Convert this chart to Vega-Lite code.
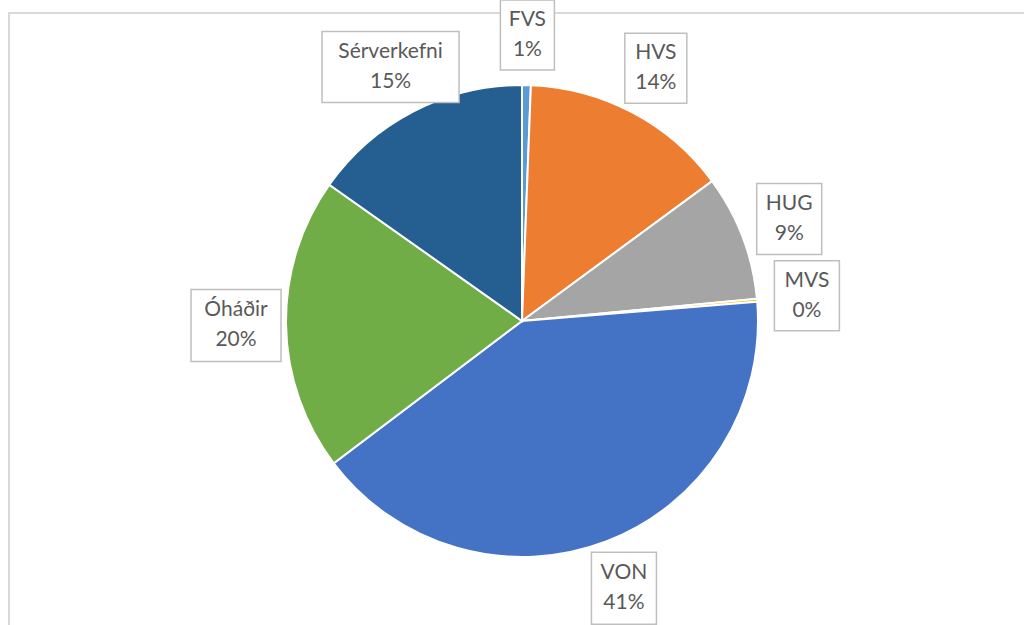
{
  "$schema": "https://vega.github.io/schema/vega-lite/v6.json",
  "width": 1026,
  "height": 616,
  "autosize": {"type": "none"},
  "padding": {"left": 9, "top": 13, "right": 0, "bottom": 0},
  "background": "white",
  "config": {"view": {"stroke": "#d9d9d9", "strokeWidth": 2}},
  "data": {
    "values": [
      {"k": 1, "name": "FVS", "value": 0.6},
      {"k": 2, "name": "HVS", "value": 14.3},
      {"k": 3, "name": "HUG", "value": 8.6},
      {"k": 4, "name": "MVS", "value": 0.2},
      {"k": 5, "name": "VON", "value": 41.0},
      {"k": 6, "name": "Óháðir", "value": 20.1},
      {"k": 7, "name": "Sérverkefni", "value": 15.2}
    ]
  },
  "transform": [
    {"window": [{"op": "sum", "field": "value", "as": "cum"}], "sort": [{"field": "k"}], "frame": [null, 0]},
    {"joinaggregate": [{"op": "sum", "field": "value", "as": "total"}]},
    {"calculate": "(datum.cum - datum.value / 2) / datum.total * 2 * PI", "as": "ang"},
    {"calculate": "286 * sin(datum.ang)", "as": "lx"},
    {"calculate": "286 * cos(datum.ang)", "as": "ly"},
    {"calculate": "[datum.name, format(datum.value, '.0f') + '%']", "as": "label"}
  ],
  "layer": [
    {
      "mark": {"type": "arc", "outerRadius": 236, "stroke": "white", "strokeWidth": 2},
      "encoding": {
        "theta": {"field": "value", "type": "quantitative", "stack": true},
        "order": {"field": "k", "type": "quantitative"},
        "color": {
          "field": "name",
          "type": "nominal",
          "legend": null,
          "scale": {
            "domain": ["FVS", "HVS", "HUG", "MVS", "VON", "Óháðir", "Sérverkefni"],
            "range": ["#5B9BD5", "#ED7D31", "#A5A5A5", "#FFC000", "#4472C4", "#70AD47", "#255E91"]
          }
        }
      }
    },
    {
      "mark": {"type": "point", "filled": true, "fill": "white", "stroke": "#bfbfbf", "strokeWidth": 1.5, "opacity": 1, "size": 10000},
      "encoding": {
        "x": {"field": "lx", "type": "quantitative", "axis": null, "scale": {"domain": [-513, 513]}},
        "y": {"field": "ly", "type": "quantitative", "axis": null, "scale": {"domain": [-308, 308]}},
        "shape": {
          "field": "name",
          "type": "nominal",
          "legend": null,
          "scale": {
            "domain": ["FVS", "HVS", "HUG", "MVS", "VON", "Óháðir", "Sérverkefni"],
            "range": [
              "M-0.54,-0.7H0.54V0.7H-0.54Z",
              "M-0.62,-0.7H0.62V0.7H-0.62Z",
              "M-0.65,-0.71H0.65V0.71H-0.65Z",
              "M-0.65,-0.7H0.65V0.7H-0.65Z",
              "M-0.65,-0.72H0.65V0.72H-0.65Z",
              "M-0.9,-0.72H0.9V0.72H-0.9Z",
              "M-1.37,-0.71H1.37V0.71H-1.37Z"
            ]
          }
        }
      }
    },
    {
      "mark": {"type": "text", "font": "Lato", "fontSize": 21, "color": "#595959", "lineHeight": 30, "baseline": "middle", "align": "center", "dy": -15},
      "encoding": {
        "x": {"field": "lx", "type": "quantitative", "axis": null, "scale": {"domain": [-513, 513]}},
        "y": {"field": "ly", "type": "quantitative", "axis": null, "scale": {"domain": [-308, 308]}},
        "text": {"field": "label"}
      }
    }
  ]
}
